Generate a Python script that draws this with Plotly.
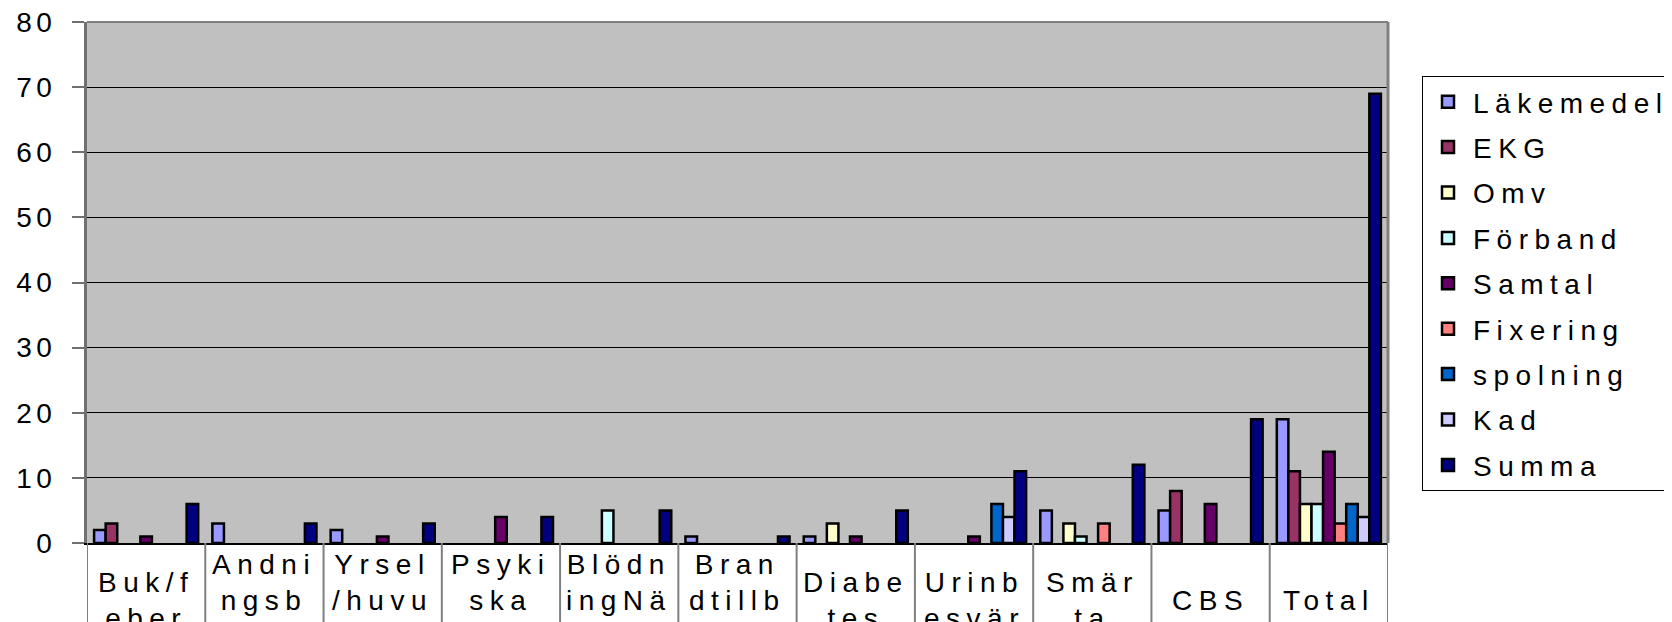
import plotly.graph_objects as go

categories = ["Buk/feber", "Andningsb", "Yrsel/huvu", "Psykiska", "BlödningNä",
              "Brandtillb", "Diabetes", "Urinbesvär", "Smärta", "CBS", "Total"]
# visible wrapped lines of each category label, and total number of wrapped lines
label_lines = [["Buk/f", "eber"], ["Andni", "ngsb"], ["Yrsel", "/huvu"], ["Psyki", "ska"],
               ["Blödn", "ingNä"], ["Bran", "dtillb"], ["Diabe", "tes"], ["Urinb", "esvär"],
               ["Smär", "ta"], ["CBS"], ["Total"]]
label_line_count = [2, 3, 3, 3, 3, 3, 2, 2, 2, 1, 1]

series_names = ["Läkemedel", "EKG", "Omv", "Förband", "Samtal", "Fixering", "spolning", "Kad", "Summa"]
lakemedel = [2, 3, 2, 0, 0, 1, 1, 0, 5, 5, 19]
ekg       = [3, 0, 0, 0, 0, 0, 0, 0, 0, 8, 11]
omv       = [0, 0, 0, 0, 0, 0, 3, 0, 3, 0, 6]
forband   = [0, 0, 0, 0, 5, 0, 0, 0, 1, 0, 6]
samtal    = [1, 0, 1, 4, 0, 0, 1, 1, 0, 6, 14]
fixering  = [0, 0, 0, 0, 0, 0, 0, 0, 3, 0, 3]
spolning  = [0, 0, 0, 0, 0, 0, 0, 6, 0, 0, 6]
kad       = [0, 0, 0, 0, 0, 0, 0, 4, 0, 0, 4]
summa     = [6, 3, 3, 4, 5, 1, 5, 11, 12, 19, 69]
series_values = [lakemedel, ekg, omv, forband, samtal, fixering, spolning, kad, summa]
colors = ["#9999FF", "#993366", "#FFFFCC", "#CCFFFF", "#660066", "#FF8080", "#0066CC", "#CCCCFF", "#000080"]

y_ticks = [0, 10, 20, 30, 40, 50, 60, 70, 80]

FONT = "Liberation Sans, Arial, sans-serif"


def spaced(t, ls):
    return f'<span style="letter-spacing:{ls}px">{t}</span>'


# the page body adds an 8px offset; figure is sized so it fits the window
OFF = 8
W, H = 1672 - OFF, 622 - OFF
ML, MT = 87 - OFF, 22 - OFF
MR = W - (1388 - OFF)
MB = H - (543 - OFF)
plot_h = H - MT - MB
plot_w = W - ML - MR

fig = go.Figure()
for name, vals, col in zip(series_names, series_values, colors):
    fig.add_trace(go.Bar(
        x=categories, y=[v if v else None for v in vals],
        name=spaced(name, 6.5), legendgroup=name,
        marker=dict(color=col, line=dict(color="black", width=2.5)),
    ))

shapes = []
# category separators in label area
for k in range(len(categories) + 1):
    shapes.append(dict(type="line", xref="x", yref="paper", x0=k - 0.5, x1=k - 0.5,
                       y0=0, y1=-(MB + 5) / plot_h,
                       line=dict(color="#808080", width=2)))
# plot area top and right borders
shapes.append(dict(type="line", xref="paper", yref="paper", x0=0, x1=1, y0=1, y1=1,
                   line=dict(color="#808080", width=2)))
shapes.append(dict(type="line", xref="paper", yref="paper", x0=1, x1=1, y0=0, y1=1,
                   line=dict(color="#808080", width=3)))

annotations = []
line_h = 36
center_px = 600.5 - OFF
for cat, lines, n in zip(categories, label_lines, label_line_count):
    top_px = center_px - n * line_h / 2
    y_paper = (H - MB - top_px) / plot_h
    annotations.append(dict(
        x=cat, xref="x", y=y_paper, yref="paper", yanchor="top", xanchor="center",
        text="<br>".join(spaced(l, 6.5) for l in lines), showarrow=False,
        font=dict(family=FONT, size=28, color="black"), align="center",
    ))

fig.update_layout(
    width=W, height=H,
    margin=dict(l=ML, r=MR, t=MT, b=MB, pad=0, autoexpand=False),
    paper_bgcolor="white", plot_bgcolor="#C0C0C0",
    barmode="group", bargap=0.12, bargroupgap=0,
    font=dict(family=FONT, size=28, color="black"),
    showlegend=True,
    legend=dict(
        x=(1422 - OFF - ML) / plot_w, xanchor="left",
        y=(H - MB - (76 - OFF)) / plot_h, yanchor="top",
        bgcolor="white", bordercolor="black", borderwidth=1,
        font=dict(family=FONT, size=28, color="black"),
        traceorder="grouped", tracegroupgap=6, itemwidth=40,
    ),
    xaxis=dict(showticklabels=False, ticks="", showgrid=False, zeroline=False,
               showline=True, linecolor="black", linewidth=2,
               range=[-0.5, len(categories) - 0.5]),
    yaxis=dict(range=[0, 80], tickvals=y_ticks, ticktext=[spaced(str(v), 4.5) for v in y_ticks],
               showgrid=True, gridcolor="black", gridwidth=1,
               zeroline=False, showline=True, linecolor="#707070", linewidth=3,
               ticks="outside", ticklen=12, tickwidth=2, tickcolor="#707070",
               ticklabelstandoff=10, ticklabeloverflow="allow",
               tickfont=dict(family=FONT, size=28, color="black")),
    shapes=shapes, annotations=annotations,
)

fig.write_html("out.html")
